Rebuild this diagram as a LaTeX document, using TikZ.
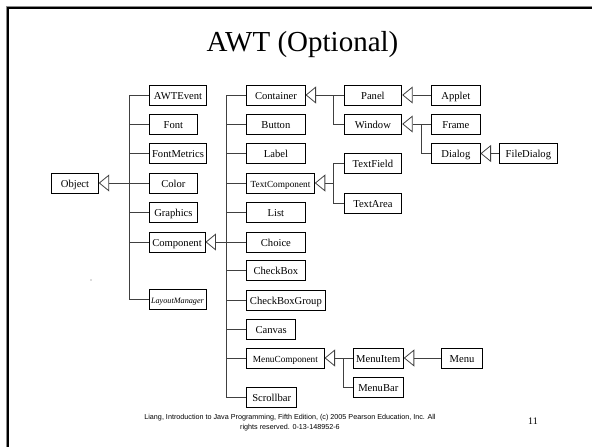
\documentclass[tikz,border=0pt]{standalone}
\usepackage{fontspec}
\setmainfont{Liberation Serif}
\newfontfamily\footfont{Liberation Sans}
\usetikzlibrary{arrows.meta}
\tikzset{
  cls/.style={draw=black, line width=0.9pt, minimum height=20pt, inner sep=0pt, text height=9pt, text depth=0.4pt, font=\fontsize{10.6}{12}\selectfont},
  wire/.style={draw=black!75, line width=0.8pt},
  inh/.style={wire, -{Triangle[open, length=10.5pt, width=17pt, line width=0.8pt]}},
}
\begin{document}
\begin{tikzpicture}[x=1pt, y=-1pt]
\useasboundingbox (0,0) rectangle (592,447);
% frame
\draw[black!45, line width=1pt] (6,447) -- (6,6) -- (592,6);
\draw[black, line width=2.2pt] (7.6,447) -- (7.6,7.6) -- (592,7.6);
% title
\node[font=\fontsize{29}{33}\selectfont, anchor=base] (title) at (302.5,51.7) {AWT (Optional)};
% left column
\node[cls, minimum width=46.5pt] (Object) at (75,183) {Object};
\node[cls, minimum width=57.5pt] (AWTEvent) at (178,95) {AWTEvent};
\node[cls, minimum width=48.5pt] (Font) at (173.4,124) {Font};
\node[cls, minimum width=57.5pt] (FontMetrics) at (178,153.5) {FontMetrics};
\node[cls, minimum width=48.5pt] (Color) at (173.4,183) {Color};
\node[cls, minimum width=48.5pt] (Graphics) at (173.4,212) {Graphics};
\node[cls, minimum width=56pt] (Component) at (177,242) {Component};
\node[cls, minimum width=57pt, font=\fontsize{8.2}{10}\selectfont\itshape] (LayoutManager) at (177.5,299) {LayoutManager};
% middle column
\node[cls, minimum width=58.3pt] (Container) at (275.9,95) {Container};
\node[cls, minimum width=58.3pt] (Button) at (275.9,124) {Button};
\node[cls, minimum width=58.3pt] (Label) at (275.9,153.5) {Label};
\node[cls, minimum width=67.6pt, font=\fontsize{9.3}{11}\selectfont] (TextComponent) at (280.5,183) {TextComponent};
\node[cls, minimum width=58.3pt] (List) at (275.9,212) {List};
\node[cls, minimum width=58.3pt] (Choice) at (275.9,242) {Choice};
\node[cls, minimum width=58.3pt] (CheckBox) at (275.9,270.5) {CheckBox};
\node[cls, minimum width=78.3pt] (CheckBoxGroup) at (285.9,300) {CheckBoxGroup};
\node[cls, minimum width=49pt] (Canvas) at (271.2,329) {Canvas};
\node[cls, minimum width=77.3pt, font=\fontsize{9.3}{11}\selectfont] (MenuComponent) at (285.4,358) {MenuComponent};
\node[cls, minimum width=50pt] (Scrollbar) at (271.7,397.5) {Scrollbar};
% right columns
\node[cls, minimum width=57.7pt] (Panel) at (372.9,95) {Panel};
\node[cls, minimum width=57.7pt] (Window) at (372.9,124) {Window};
\node[cls, minimum width=57.7pt] (TextField) at (372.9,163) {TextField};
\node[cls, minimum width=57.7pt] (TextArea) at (372.9,203) {TextArea};
\node[cls, minimum width=50pt] (MenuItem) at (378.3,358) {MenuItem};
\node[cls, minimum width=50pt] (MenuBar) at (378.3,387) {MenuBar};
\node[cls, minimum width=48.3pt] (Applet) at (455.9,95) {Applet};
\node[cls, minimum width=48.3pt] (Frame) at (455.9,124) {Frame};
\node[cls, minimum width=48.3pt] (Dialog) at (455.9,153.5) {Dialog};
\node[cls, minimum width=58.7pt] (FileDialog) at (528.4,153.5) {FileDialog};
\node[cls, minimum width=40.5pt] (Menu) at (462,358) {Menu};
% spines
\coordinate (sA) at (129.3,95);
\coordinate (sB) at (226.7,95);
\coordinate (sC) at (333.3,95);
\coordinate (sD) at (333.3,163);
\coordinate (sE) at (421.7,124);
\coordinate (sF) at (343.3,358);
% Object children
\draw[wire] (AWTEvent.west) -- (sA) |- (LayoutManager.west);
\foreach \n in {Font,FontMetrics,Color,Graphics,Component}
  \draw[wire] (\n.west) -- (\n.west -| sA);
\draw[inh] (Color.west -| sA) -- (Object.east);
% Component children
\draw[wire] (Container.west) -- (sB) |- (Scrollbar.west);
\foreach \n in {Button,Label,TextComponent,List,Choice,CheckBox,CheckBoxGroup,Canvas,MenuComponent}
  \draw[wire] (\n.west) -- (\n.west -| sB);
\draw[inh] (Choice.west -| sB) -- (Component.east);
% Container children
\draw[wire] (Panel.west) -- (sC) |- (Window.west);
\draw[inh] (sC) -- (Container.east);
% TextComponent children
\draw[wire] (TextField.west) -- (sD) |- (TextArea.west);
\draw[inh] (TextComponent.east -| sD) -- (TextComponent.east);
% Window children
\draw[wire] (Frame.west) -- (sE) |- (Dialog.west);
\draw[inh] (sE) -- (Window.east);
% Panel, Dialog, MenuItem
\draw[inh] (Applet.west) -- (Panel.east);
\draw[inh] (FileDialog.west) -- (Dialog.east);
\draw[inh] (Menu.west) -- (MenuItem.east);
% MenuComponent children
\draw[wire] (MenuItem.west) -- (sF) |- (MenuBar.west);
\draw[inh] (sF) -- (MenuComponent.east);
% stray dot
\fill[black!60] (91,280) circle (0.6pt);
% footer
\node[font=\footfont\fontsize{7.2}{10}\selectfont, align=center] (foot) at (290,422.5) {Liang, Introduction to Java Programming, Fifth Edition, (c) 2005 Pearson Education, Inc. All\\rights reserved. 0-13-148952-6};
\node[font=\fontsize{10}{12}\selectfont] (pg) at (533,421) {11};
\end{tikzpicture}
\end{document}
